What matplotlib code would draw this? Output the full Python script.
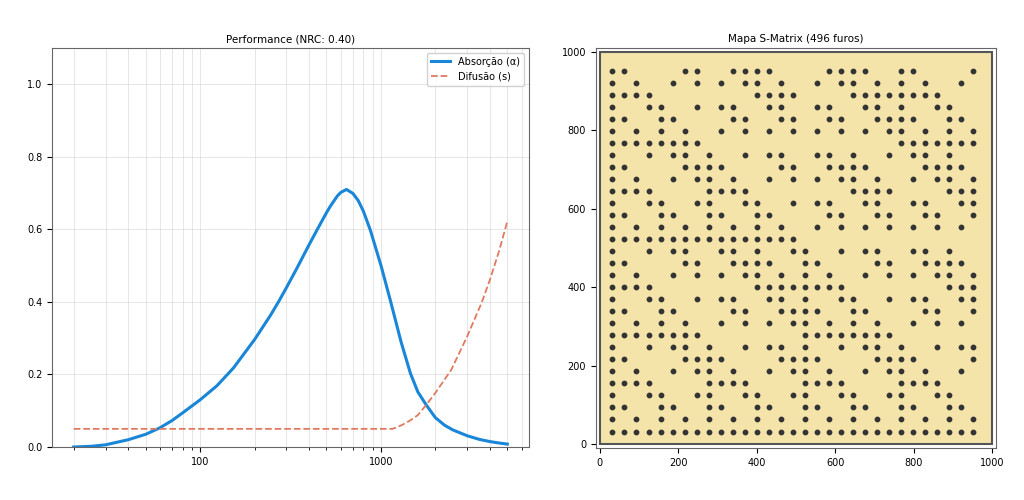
import numpy as np
import matplotlib
matplotlib.use('Agg')
import matplotlib.pyplot as plt
from matplotlib.patches import Rectangle
from matplotlib.ticker import ScalarFormatter

# curva de absorcao
freq_abs = [20, 25, 30, 40, 50, 60, 70, 80, 90, 100, 124, 153, 200, 245, 272,
            300, 344, 400, 445, 500, 527, 574, 600, 645, 700, 750, 800, 875,
            1000, 1125, 1292, 1456, 1600, 1780, 2000, 2250, 2500, 3000, 3500,
            4000, 4500, 5000]
alpha = [0.0, 0.002, 0.006, 0.020, 0.035, 0.053, 0.073, 0.094, 0.113, 0.130,
         0.169, 0.218, 0.296, 0.363, 0.401, 0.439, 0.494, 0.557, 0.600, 0.646,
         0.665, 0.692, 0.702, 0.710, 0.699, 0.679, 0.650, 0.597, 0.501, 0.406,
         0.290, 0.203, 0.152, 0.116, 0.081, 0.060, 0.047, 0.031, 0.021, 0.015,
         0.011, 0.008]

# curva de difusao
freq_dif = [20, 1160, 1300, 1450, 1600, 1780, 2000, 2450, 3000, 3600, 4000, 4500, 5000]
difusao = [0.05, 0.05, 0.060, 0.073, 0.088, 0.116, 0.149, 0.213, 0.305, 0.397,
           0.460, 0.540, 0.622]

nrc = 0.40

# mapa de furos, linha de baixo para cima (1 = furo)
hole_rows = [
    "1111111111111111111111111111111",
    "1010101010101010101010101010101",
    "1100110011001100110011001100110",
    "1001100110011001100110011001100",
    "1111000011110000111100001111000",
    "1010010110100101101001011010010",
    "1100001111000011110000111100001",
    "1001011010010110100101101001011",
    "1111111100000000111111110000000",
    "1010101001010101101010100101010",
    "1100110000110011110011000011001",
    "1001100101100110100110010110011",
    "1111000000001111111100000000111",
    "1010010101011010101001010101101",
    "1100001100111100110000110011110",
    "1001011001101001100101100110100",
    "1111111111111111000000000000000",
    "1010101010101010010101010101010",
    "1100110011001100001100110011001",
    "1001100110011001011001100110011",
    "1111000011110000000011110000111",
    "1010010110100101010110100101101",
    "1100001111000011001111000011110",
    "1001011010010110011010010110100",
    "1111111100000000000000001111111",
    "1010101001010101010101011010101",
    "1100110000110011001100111100110",
    "1001100101100110011001101001100",
    "1111000000001111000011111111000",
    "1010010101011010010110101010010",
    "1100001100111100001111001100001",
]

plate = 1000
pitch = 30.67
offset = 32

fig = plt.figure(figsize=(10.24, 5.0), dpi=100)

# --- performance ---
ax1 = fig.add_axes([0.0508, 0.106, 0.4658, 0.798])
ax1.semilogx(freq_abs, alpha, color='#1a86d8', lw=2.2, label='Absorção (α)')
ax1.semilogx(freq_dif, difusao, '--', color='#e07a5f', lw=1.3, label='Difusão (s)')
ax1.set_ylim(0, 1.1)
ax1.set_yticks(np.arange(0, 1.01, 0.2))
ax1.xaxis.set_major_formatter(ScalarFormatter())
ax1.grid(True, which='both', color='#cccccc', alpha=0.5, lw=0.7)
ax1.set_title(f'Performance (NRC: {nrc:.2f})', fontsize=7.5, pad=4)
ax1.legend(loc='upper right', fontsize=7, framealpha=0.9)
ax1.tick_params(labelsize=7)
for s in ax1.spines.values():
    s.set_color('#666666')

# --- mapa de furos ---
ax2 = fig.add_axes([0.582, 0.104, 0.3906, 0.8])
ax2.add_patch(Rectangle((0, 0), plate, plate, facecolor='#f5e4aa',
                        edgecolor='#555555', lw=1.5, zorder=0))
xs, ys = [], []
for i, row in enumerate(hole_rows):
    for j, c in enumerate(row):
        if c == '1':
            xs.append(offset + j * pitch)
            ys.append(offset + i * pitch)
ax2.scatter(xs, ys, s=10, color='#333333', zorder=2)
ax2.set_xlim(-10, 1010)
ax2.set_ylim(-10, 1010)
ax2.set_aspect('equal')
ax2.set_title(f'Mapa S-Matrix ({len(xs)} furos)', fontsize=7.5, pad=4)
ax2.tick_params(labelsize=7)
for s in ax2.spines.values():
    s.set_color('#666666')

fig.savefig('out.png', dpi=100)
